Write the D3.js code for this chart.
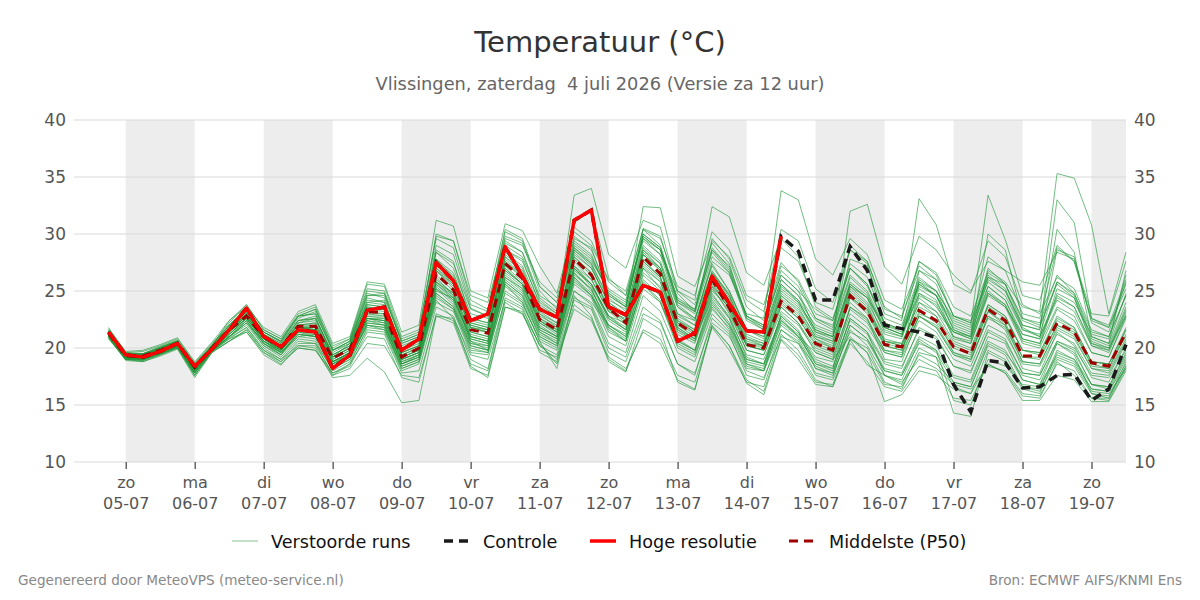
<!DOCTYPE html>
<html>
<head>
<meta charset="utf-8">
<script src="https://cdn.jsdelivr.net/npm/d3@7"></script>
<style>
  body { margin: 0; background: #fff; }
  svg { font-family: "DejaVu Sans", sans-serif; }
</style>
</head>
<body>
<svg id="chart" width="1200" height="600"></svg>
<script>
// runs start at 04-07 18:00 UTC, one value every 6 hours
const runStart = "2026-07-04T18:00:00Z";
const stepHours = 6;

const weekdays = ["zo", "ma", "di", "wo", "do", "vr", "za"];
const yTicks = [10, 15, 20, 25, 30, 35, 40];

// Hoge resolutie (stops after 14-07 12:00)
const hres = [21.4, 19.4,19.2,19.7,20.4, 18.4,19.9,21.6,23.5, 21.0,20.1,21.6,21.4, 18.2,19.4,23.3,23.6, 19.8,20.8,27.5,25.9, 22.4,23.0,28.9,26.3, 23.4,22.7,31.2,32.1, 23.6,22.9,25.5,24.9, 20.6,21.3,26.3,23.9, 21.5,21.4,29.8];

// Controle (same as hres up to 14-07 12:00)
const control = [21.4, 19.4,19.2,19.7,20.4, 18.4,19.9,21.6,23.5, 21.0,20.1,21.6,21.4, 18.2,19.4,23.3,23.6, 19.8,20.8,27.5,25.9, 22.4,23.0,28.9,26.3, 23.4,22.7,31.2,32.1, 23.6,22.9,25.5,24.9, 20.6,21.3,26.3,23.9, 21.5,21.4,29.8,28.5, 24.2,24.2,28.9,26.8, 22.0,21.7,21.4,20.9, 16.8,14.4,18.9,18.7, 16.5,16.6,17.6,17.7, 15.4,16.4,20.3];

// Middelste (P50)
const p50 = [21.3, 19.3,19.3,19.8,20.4, 18.3,20.0,21.6,22.8, 21.0,20.1,21.9,21.9, 19.1,19.9,23.2,23.1, 19.2,20.0,26.5,25.1, 21.6,21.3,27.4,26.1, 22.5,21.6,27.8,26.4, 23.5,22.2,28.0,26.5, 22.2,21.2,26.0,23.5, 20.3,20.0,24.1,22.8, 20.4,19.8,24.6,23.2, 20.3,20.1,23.3,22.4, 20.1,19.5,23.4,22.4, 19.3,19.3,22.2,21.4, 18.7,18.4,21.4];

// Verstoorde runs (one row per member)
const perturbed = [
  [21.6, 19.5,19.4,20.0,20.6, 18.5,20.2,22.0,23.6, 21.4,20.5,22.6,23.2, 19.8,20.6,24.6,24.8, 20.4,21.0,29.0,28.2, 23.5,22.8,29.8,29.2, 25.0,23.4,31.0,32.0, 26.2,24.6,30.5,29.8, 24.8,23.2,29.6,27.8, 23.6,22.4,27.5,25.8, 22.6,21.8,26.4,25.0, 21.8,21.2,24.6,23.8, 21.0,20.6,25.4,24.2, 20.8,20.4,23.6,22.8, 19.6,19.2,22.8],
  [20.8, 19.0,18.9,19.4,20.0, 17.6,19.7,21.0,22.0, 20.2,19.2,20.8,20.6, 18.0,18.8,21.6,21.4, 18.0,18.6,24.0,23.2, 19.6,19.4,25.0,24.0, 20.6,19.8,25.6,24.4, 21.0,20.2,25.2,24.0, 20.0,19.2,23.4,21.8, 18.6,18.0,21.6,20.4, 18.4,17.8,21.4,20.6, 18.0,17.6,20.4,19.8, 17.4,17.0,20.6,19.8, 17.2,16.8,19.4,18.8, 16.4,16.2,19.0],
  [21.0, 19.1,19.0,19.6,20.2, 17.8,19.8,20.8,21.4, 19.4,18.5,20.2,20.0, 17.4,17.6,19.1,17.9, 15.2,15.4,22.8,22.2, 18.2,17.6,23.6,23.0, 19.8,19.2,24.2,23.4, 19.6,18.8,23.0,22.2, 18.6,17.8,22.2,21.0, 18.0,17.4,21.0,20.4, 17.6,17.2,20.8,20.0, 17.0,16.4,19.6,19.2, 16.6,16.0,19.8,19.0, 16.6,16.2,19.0,18.4, 16.0,15.8,18.4],
  [21.4, 19.4,19.2,19.9,20.5, 18.3,20.1,21.8,23.4, 21.2,20.4,22.4,22.8, 19.2,20.4,24.4,24.0, 20.2,20.8,28.6,27.6, 22.4,22.0,29.4,28.4, 24.2,23.0,33.4,34.0, 28.2,27.0,31.2,30.6, 25.0,23.8,28.8,27.0, 22.8,22.0,26.4,25.0, 21.4,21.0,25.6,24.4, 20.8,20.4,24.0,23.2, 20.6,20.0,23.8,22.8, 19.8,19.6,22.6,21.8, 18.8,18.6,21.6],
  [21.2, 19.3,19.3,19.7,20.3, 18.2,20.0,21.5,22.8, 20.8,19.9,21.8,21.6, 18.8,19.6,22.8,22.6, 19.0,19.6,26.0,24.8, 21.0,20.6,27.0,25.6, 22.2,21.4,27.2,26.0, 23.2,22.6,28.6,27.4, 23.0,22.4,27.6,26.4, 23.0,22.6,33.8,33.0, 27.8,26.4,29.6,28.2, 24.2,23.4,27.2,26.0, 22.8,22.2,25.8,24.6, 21.6,21.0,24.4,23.6, 20.2,19.8,23.4],
  [21.3, 19.2,19.1,19.8,20.4, 18.2,19.9,21.4,22.6, 20.6,19.8,21.4,21.2, 18.6,19.4,22.6,22.4, 18.8,19.4,25.6,24.4, 20.8,20.4,26.6,25.4, 21.8,21.0,26.8,25.6, 22.6,21.6,27.4,26.0, 21.8,20.8,25.4,23.8, 20.2,19.8,23.6,22.2, 20.0,19.4,24.4,23.4, 20.2,19.8,24.8,24.0, 21.4,20.8,26.8,25.8, 23.6,23.2,35.3,34.9, 30.8,23.0,28.4],
  [21.5, 19.6,19.5,20.1,20.7, 18.6,20.3,22.2,23.8, 21.6,20.8,23.0,23.6, 20.0,20.8,25.2,25.0, 20.8,21.4,29.6,28.8, 23.8,23.2,30.2,29.4, 25.4,24.0,29.4,28.2, 24.6,23.6,29.8,28.6, 24.0,23.0,28.0,26.6, 22.4,21.6,26.0,24.6, 21.8,21.2,27.8,27.2, 23.0,22.4,33.1,30.8, 25.6,24.8,29.4,28.0, 23.8,23.0,26.2,25.2, 21.6,21.0,24.6],
  [21.1, 19.2,19.2,19.7,20.3, 18.0,19.9,21.2,22.4, 20.4,19.6,21.2,21.0, 18.4,19.2,22.2,22.0, 18.6,19.2,25.4,24.0, 20.4,20.2,26.0,24.8, 21.4,20.6,26.4,25.2, 22.0,21.2,27.0,25.8, 21.4,20.6,25.0,23.6, 20.8,20.4,24.8,23.6, 21.0,20.6,25.6,24.4, 21.6,21.0,25.8,25.0, 22.6,22.0,33.4,29.5, 24.6,24.2,29.0,27.6, 22.6,21.8,25.6],
  [21.0, 19.0,19.0,19.5,20.1, 17.9,19.8,21.0,22.2, 20.6,19.7,21.6,21.4, 18.6,19.4,22.4,22.2, 18.8,19.4,25.2,24.2, 20.6,20.2,26.2,25.0, 21.6,20.8,26.6,25.2, 21.8,20.8,26.4,25.0, 20.6,19.8,24.6,22.8, 19.2,18.6,22.4,21.0, 18.8,18.2,22.6,21.4, 17.6,16.8,20.0,19.2, 14.3,14.0,19.6,18.8, 16.4,16.0,19.6,19.0, 16.8,16.4,19.2],
  [21.4, 19.5,19.4,20.0,20.6, 18.4,20.0,21.6,23.0, 21.0,20.2,22.0,22.2, 19.2,20.0,23.6,23.4, 19.6,20.2,27.0,25.8, 22.0,21.6,28.0,26.8, 23.0,22.2,28.6,27.2, 23.8,22.8,28.4,27.0, 22.6,21.6,26.6,24.6, 21.0,20.4,25.0,23.8, 21.4,20.8,32.0,32.6, 27.1,25.6,29.8,28.6, 26.4,25.0,27.6,26.8, 25.8,25.5,28.4,27.8, 23.0,22.8,27.6],
  [21.2, 19.2,19.1,19.6,20.2, 18.0,19.8,21.2,22.6, 20.8,19.8,21.6,21.6, 18.8,19.6,23.0,22.8, 19.2,19.8,26.2,24.6, 21.2,20.8,27.0,25.6, 22.2,21.2,27.0,25.6, 22.8,21.6,27.0,25.2, 21.2,20.4,24.8,22.6, 19.4,19.0,22.6,21.0, 19.6,19.0,21.0,19.6, 15.3,15.9,18.0,17.6, 16.4,16.0,18.6,17.8, 15.4,15.4,17.6,17.2, 15.3,15.3,18.0],
  [21.7, 19.7,19.8,20.3,20.9, 18.8,20.5,22.4,23.6, 21.8,21.0,23.2,23.8, 20.4,21.0,25.8,25.6, 21.4,22.0,31.2,30.7, 25.0,24.4,30.9,30.3, 27.2,24.8,30.6,29.4, 25.8,24.6,29.6,28.6, 24.0,23.2,28.6,27.2, 22.8,22.0,26.4,25.0, 23.4,22.4,27.0,25.4, 22.2,21.6,26.0,25.0, 22.4,21.8,26.4,25.2, 21.8,21.0,24.6,23.6, 20.4,19.8,23.2],
  [21.3, 19.4,19.4,19.9,20.5, 18.4,20.1,21.8,23.2, 21.2,20.2,22.2,22.4, 19.4,20.2,23.8,23.6, 19.8,20.6,27.6,26.4, 22.6,22.2,28.4,27.2, 23.6,22.8,29.6,28.8, 24.6,23.6,32.4,32.3, 26.3,25.4,29.2,27.4, 22.6,21.6,25.6,24.2, 21.2,20.6,24.0,22.6, 19.8,19.4,22.8,22.0, 19.6,19.0,22.6,21.8, 18.8,18.6,21.6,20.8, 18.2,17.8,20.6],
  [21.5, 19.3,19.3,19.8,20.4, 18.3,20.0,21.6,22.8, 20.8,20.0,21.8,21.8, 19.0,19.8,23.0,23.0, 19.2,19.8,26.8,25.4, 21.6,21.4,27.8,26.4, 22.8,22.0,28.2,27.0, 24.0,23.0,29.4,28.2, 25.0,24.2,32.4,31.5, 26.6,25.5,29.6,28.0, 23.6,22.6,27.0,25.6, 22.0,21.4,25.4,24.6, 21.0,20.4,24.6,23.6, 20.4,20.0,23.4,22.4, 19.6,19.2,22.6],
  [20.9, 18.9,18.8,19.3,19.9, 17.4,19.6,20.6,21.6, 19.8,18.8,20.4,20.4, 17.6,18.6,21.0,20.8, 17.4,17.0,23.0,22.4, 18.6,18.0,24.0,23.0, 20.4,18.6,23.8,22.6, 19.2,18.2,21.4,20.4, 17.2,16.4,22.0,20.2, 17.2,16.2,20.8,19.4, 17.0,16.8,20.8,19.6, 16.8,16.6,19.4,18.6, 17.0,16.6,20.2,19.4, 16.6,16.4,19.8,19.0, 16.4,16.2,18.6],
  [21.4, 19.3,19.4,19.9,20.5, 18.5,20.2,21.8,23.4, 21.0,20.0,22.2,22.6, 19.6,20.4,24.0,24.2, 20.0,20.6,27.4,26.0, 22.2,21.8,28.6,27.8, 23.8,22.8,28.8,27.4, 24.4,23.2,29.0,27.6, 23.6,22.4,27.4,25.0, 21.6,21.0,25.4,24.2, 22.0,21.4,26.2,24.8, 21.4,21.0,25.8,24.6, 21.8,21.2,27.0,25.6, 22.4,21.8,25.8,24.6, 20.8,20.2,24.0],
  [21.0, 19.1,19.2,19.6,20.2, 18.1,19.8,21.2,22.6, 20.6,19.6,21.0,21.2, 18.4,19.2,22.0,21.8, 18.4,19.0,24.8,23.6, 20.2,19.8,25.8,24.6, 21.0,20.2,26.2,24.8, 21.8,20.6,25.6,24.0, 20.4,19.6,23.8,22.0, 19.0,18.6,22.8,21.4, 19.2,18.8,23.0,21.8, 19.6,19.2,22.4,21.4, 19.0,18.4,22.0,21.2, 18.6,18.4,21.2,20.4, 17.8,17.6,20.4],
  [21.8, 19.6,19.7,20.2,20.8, 18.7,20.4,22.0,23.4, 21.4,20.6,22.8,23.0, 19.8,20.6,24.8,24.4, 20.6,21.2,28.4,27.0, 23.0,22.6,29.0,28.0, 24.4,23.2,29.0,27.8, 25.0,24.0,30.0,28.8, 24.2,23.4,28.6,26.8, 22.8,21.8,27.2,26.0, 23.0,22.4,27.4,26.2, 22.6,22.0,26.2,25.0, 21.6,21.0,25.0,23.8, 20.6,20.2,24.8,24.0, 21.2,20.8,26.4],
  [21.2, 19.2,19.0,19.7,20.2, 17.6,19.7,20.9,21.8, 20.0,19.0,20.6,20.4, 18.2,19.0,22.0,21.6, 18.2,18.8,24.4,23.4, 19.8,19.6,24.8,23.8, 20.8,20.0,25.0,24.0, 22.0,21.0,26.6,25.4, 21.6,20.8,24.4,22.6, 18.6,18.2,22.0,20.8, 18.2,17.8,22.6,21.4, 18.8,18.4,21.6,20.8, 18.4,18.0,21.4,20.6, 17.8,17.6,20.6,20.0, 17.6,17.4,19.8],
  [21.5, 19.4,19.5,20.0,20.6, 18.6,20.2,22.4,23.8, 21.6,20.8,22.8,23.4, 20.2,20.8,25.6,25.4, 21.0,21.6,29.8,29.4, 24.6,24.0,29.6,29.0, 25.8,24.4,30.2,29.0, 26.0,25.0,30.4,29.6, 25.4,24.6,30.2,28.6, 24.6,23.8,28.8,27.6, 24.0,23.4,28.6,27.4, 22.0,21.6,27.6,26.4, 22.8,22.2,28.0,26.8, 23.0,22.6,28.8,27.6, 22.4,21.8,25.2],
  [21.0, 19.0,18.9,19.5,20.1, 17.8,19.7,20.8,21.8, 19.8,19.0,20.2,20.2, 17.8,18.4,21.4,21.2, 17.8,18.0,23.6,22.8, 19.0,18.2,24.4,23.6, 20.2,19.0,23.4,22.4, 19.0,18.0,21.6,20.8, 17.6,17.0,21.8,19.8, 17.0,16.6,21.2,19.8, 17.2,16.6,20.4,18.8, 16.6,16.2,18.4,18.0, 15.6,15.4,18.6,17.8, 15.8,15.6,18.8,17.6, 15.6,15.4,18.2],
  [21.3, 19.3,19.2,19.8,20.4, 18.2,19.9,21.6,23.0, 21.0,20.0,21.8,21.6, 18.8,19.6,23.2,23.0, 19.2,19.8,26.4,25.0, 21.4,21.0,27.2,25.8, 22.4,21.4,27.6,26.0, 23.2,22.0,27.8,26.2, 22.0,21.0,25.8,23.4, 20.2,19.8,24.0,22.6, 20.2,19.6,24.4,23.0, 20.2,19.8,23.2,22.2, 20.0,19.4,23.2,22.2, 19.2,19.2,22.0,21.2, 18.6,18.2,21.2],
  [21.1, 19.1,19.2,19.7,20.2, 18.0,19.9,21.0,22.4, 20.4,19.4,21.4,21.0, 18.6,19.2,22.6,22.2, 18.6,19.4,25.0,24.4, 20.8,20.4,26.4,25.2, 21.8,21.0,27.0,25.6, 22.8,21.8,28.2,27.0, 22.8,22.0,26.6,24.4, 20.8,20.2,24.6,23.2, 20.8,20.0,25.2,23.8, 20.6,20.4,24.0,22.8, 19.6,19.2,23.8,22.8, 19.8,19.6,22.8,21.8, 18.8,18.6,21.8],
  [21.2, 19.2,19.1,19.7,20.3, 18.2,19.8,21.4,22.8, 20.8,19.8,21.6,21.8, 18.8,19.4,22.6,22.4, 19.0,19.6,25.8,24.6, 20.6,19.8,25.6,24.0, 20.6,18.2,24.6,22.8, 18.8,17.9,22.6,21.6, 17.0,16.3,21.9,20.2, 16.9,15.9,20.7,19.0, 16.8,16.6,20.7,18.5, 17.6,17.0,19.0,18.2, 16.8,16.4,18.4,18.0, 16.0,15.8,18.6,18.0, 15.6,15.6,18.8],
  [21.4, 19.4,19.3,19.9,20.5, 18.4,20.0,21.8,23.2, 21.2,20.2,22.4,22.6, 19.4,20.2,24.2,24.0, 20.0,20.8,27.8,26.2, 22.2,21.8,28.0,26.6, 23.0,21.8,28.6,27.4, 24.2,23.4,30.4,29.0, 24.2,23.2,29.4,28.0, 24.2,23.2,30.4,29.4, 25.2,24.0,28.6,27.6, 23.6,22.6,27.6,26.6, 23.6,22.8,26.6,25.6, 22.6,22.2,26.4,24.8, 21.4,21.0,24.6],
  [21.0, 19.0,19.1,19.5,20.1, 17.8,19.7,20.6,21.6, 19.6,18.8,20.0,19.8, 17.8,18.6,21.8,21.6, 18.4,19.0,24.2,22.6, 19.4,19.0,24.2,23.4, 20.2,19.4,25.0,23.8, 20.4,19.6,24.6,23.2, 19.6,18.8,23.0,21.4, 18.2,18.0,23.0,21.6, 18.6,18.2,23.6,22.6, 19.0,18.8,22.8,21.8, 19.4,18.8,22.8,21.6, 18.2,17.8,21.4,20.2, 17.4,17.0,20.0],
  [21.6, 19.5,19.5,20.1,20.6, 18.4,20.2,22.0,23.4, 21.4,20.6,22.8,23.0, 19.8,20.4,24.6,24.6, 20.4,21.0,28.4,27.4, 23.4,22.8,29.2,28.4, 24.6,23.6,28.8,27.6, 25.2,24.2,29.8,28.6, 23.8,22.6,26.6,24.8, 21.6,20.8,25.6,24.0, 21.6,21.0,25.4,24.4, 21.8,21.2,24.8,23.6, 21.4,20.8,24.8,23.8, 20.8,20.4,25.2,24.4, 20.4,20.0,23.6],
  [21.3, 19.3,19.3,19.8,20.4, 18.3,20.0,21.6,23.0, 20.8,20.0,21.8,22.0, 19.2,20.0,23.6,23.4, 19.6,20.2,26.8,25.2, 21.8,21.6,27.6,26.4, 22.6,21.6,28.0,26.6, 23.4,22.4,28.6,27.0, 22.4,21.6,26.2,24.0, 20.4,20.2,24.4,23.0, 20.8,20.2,25.0,23.6, 20.6,20.2,23.6,22.8, 20.4,19.8,23.6,22.6, 19.8,19.4,22.4,21.6, 18.4,18.2,21.6],
  [21.2, 19.2,19.3,19.7,20.3, 18.2,20.0,21.4,22.6, 20.6,19.8,21.6,21.4, 18.6,19.6,22.8,22.8, 19.4,20.0,25.8,24.8, 21.4,21.0,26.8,25.6, 22.4,21.4,27.2,25.6, 22.8,22.2,27.6,26.2, 22.2,21.4,25.6,23.4, 20.2,19.8,23.8,22.6, 20.4,19.8,24.6,23.2, 20.4,20.0,23.0,22.4, 20.2,19.6,23.2,22.0, 19.2,19.0,22.0,21.4, 18.8,18.6,21.0],
  [21.1, 19.2,19.0,19.6,20.2, 18.0,19.8,21.2,22.6, 20.6,19.6,21.4,21.6, 18.8,19.6,22.6,22.4, 19.0,19.6,25.6,24.2, 21.0,20.6,26.2,25.2, 21.6,20.8,26.6,25.0, 22.4,21.4,27.2,25.8, 21.6,20.6,25.2,23.2, 19.8,19.4,23.2,22.0, 19.8,19.2,23.4,22.2, 19.6,19.2,26.8,26.0, 22.8,22.4,26.2,25.6, 22.0,21.6,30.4,28.4, 21.0,20.4,26.8],
  [21.2, 19.3,19.2,19.8,20.3, 18.2,20.0,21.6,22.9, 21.0,20.0,21.8,21.8, 19.0,19.8,23.4,23.2, 19.4,20.0,26.8,25.6, 21.8,21.4,27.6,26.2, 22.6,21.8,28.0,26.6, 23.6,22.4,28.2,26.8, 22.4,21.4,26.0,23.6, 20.4,20.0,24.2,22.8, 20.6,20.0,24.8,23.4, 20.6,20.2,24.4,23.2, 21.4,21.0,30.0,28.6, 22.6,22.0,25.6,24.4, 20.6,20.0,22.8],
  [20.9, 19.0,19.0,19.5,20.0, 17.8,19.7,21.0,22.2, 20.2,19.4,21.0,20.8, 18.2,19.0,22.0,21.8, 18.2,18.8,24.6,23.4, 20.0,19.6,25.4,24.2, 21.0,20.2,25.8,24.6, 21.4,20.6,25.8,24.6, 20.6,19.8,24.0,22.0, 18.8,18.4,22.4,21.2, 19.0,18.4,22.4,21.2, 18.6,18.2,21.8,21.0, 18.4,17.8,21.6,20.8, 17.8,17.6,20.6,19.8, 16.8,16.6,19.6],
  [21.4, 19.4,19.4,19.9,20.5, 18.4,20.1,21.8,23.2, 21.2,20.4,22.4,22.6, 19.4,20.2,24.0,23.8, 20.0,20.6,27.8,26.6, 22.6,22.2,28.6,27.6, 24.0,23.0,29.2,28.0, 24.8,23.8,29.6,28.2, 23.6,22.6,27.2,25.0, 21.6,21.0,26.0,24.6, 22.4,21.6,29.0,27.6, 23.4,22.8,26.8,25.6, 22.0,21.4,25.4,24.2, 21.2,20.8,24.2,23.2, 20.2,19.6,23.0],
  [21.1, 19.1,19.0,19.6,20.2, 18.0,19.8,21.0,22.4, 20.4,19.4,21.2,21.0, 18.4,19.2,22.4,22.0, 18.6,19.2,25.2,23.8, 20.4,20.0,25.8,24.6, 21.4,20.4,26.2,24.6, 22.0,21.0,26.0,24.6, 20.8,19.8,24.2,22.2, 19.0,18.6,22.8,21.4, 18.2,17.6,21.6,20.2, 17.6,17.2,20.6,19.6, 17.0,16.6,20.4,19.6, 17.6,17.2,20.4,19.4, 16.0,15.6,18.4],
  [21.3, 19.3,19.3,19.8,20.4, 18.3,20.0,21.6,23.0, 21.0,20.2,22.0,22.0, 19.2,20.0,23.4,23.4, 19.6,20.2,27.0,25.6, 21.8,21.4,27.4,26.2, 22.4,21.6,27.8,26.4, 23.4,22.2,28.2,26.8, 22.2,21.2,26.4,24.2, 20.6,20.2,24.6,23.4, 21.0,20.4,25.4,24.0, 21.2,20.8,25.2,24.2, 20.8,20.4,24.8,23.6, 21.2,20.8,28.6,28.0, 22.2,21.4,25.8],
  [21.0, 19.0,18.8,19.4,20.0, 17.6,19.6,20.6,21.4, 19.6,18.6,20.0,19.8, 17.6,18.2,20.4,20.2, 17.6,17.4,22.8,22.6, 18.4,17.4,23.6,23.2, 19.6,18.8,24.4,23.6, 20.0,19.2,23.6,22.4, 18.6,17.6,22.6,21.2, 17.6,17.2,21.6,20.6, 17.8,17.4,22.0,20.8, 18.2,17.8,21.0,20.2, 17.6,17.2,21.0,20.4, 17.2,16.8,20.4,19.6, 16.8,16.6,19.4],
  [21.5, 19.5,19.5,20.0,20.6, 18.5,20.2,22.0,23.4, 21.4,20.6,22.8,23.4, 19.8,20.6,25.0,24.8, 20.6,21.2,30.0,29.4, 24.2,23.4,30.4,29.6, 25.4,24.0,29.8,28.6, 24.8,23.6,30.0,28.8, 24.4,23.4,28.4,26.6, 22.6,21.8,26.8,25.4, 22.6,22.0,27.0,25.6, 22.2,21.6,25.6,24.6, 22.2,21.6,26.2,25.0, 21.6,21.2,25.8,24.8, 21.0,20.4,24.8],
  [21.2, 19.2,19.1,19.7,20.3, 18.1,19.9,21.4,22.8, 20.8,19.8,21.6,21.6, 18.8,19.6,22.6,22.6, 19.0,19.6,25.8,24.4, 21.0,20.6,26.8,25.6, 22.0,21.0,27.0,25.4, 22.6,21.6,27.6,26.2, 21.8,20.8,25.4,23.0, 19.8,19.4,23.6,22.2, 19.6,19.0,23.6,22.4, 19.8,19.6,22.8,21.8, 19.4,19.0,22.8,22.0, 18.8,18.6,21.8,21.0, 18.2,18.0,20.8],
  [21.0, 19.1,19.0,19.5,20.1, 17.9,19.8,21.0,22.2, 20.4,19.6,21.2,21.0, 18.4,19.2,22.2,22.0, 18.6,19.2,24.8,23.6, 20.2,19.8,25.6,24.4, 21.2,20.4,26.0,24.6, 21.6,20.6,25.6,24.2, 20.2,19.4,23.6,21.6, 18.4,18.0,22.2,21.0, 18.6,18.0,22.0,20.8, 18.0,17.6,20.8,19.8, 15.4,15.0,19.0,18.4, 16.8,16.6,19.2,18.6, 16.2,16.0,18.2],
  [21.4, 19.4,19.3,19.9,20.5, 18.4,20.0,21.7,23.1, 21.0,20.2,22.0,22.2, 19.2,20.0,23.8,23.6, 19.8,20.4,27.2,26.0, 22.0,21.6,28.2,27.0, 23.2,22.2,28.4,27.0, 24.0,22.8,28.8,27.4, 23.0,22.0,26.8,24.6, 21.2,20.6,25.2,24.0, 21.6,21.0,25.8,24.6, 21.8,21.2,25.6,24.6, 21.6,21.0,26.0,25.0, 22.0,21.6,33.0,31.0, 22.6,22.0,26.0]
];

const W = 1200, H = 600;
const margin = { left: 74, right: 74, top: 120, bottom: 138 };
const svg = d3.select("#chart");

const t0 = new Date(runStart);
const timeAt = (i) => d3.utcHour.offset(t0, i * stepHours);

const x = d3.scaleUtc()
  .domain([new Date("2026-07-04T06:00:00Z"), new Date("2026-07-19T12:00:00Z")])
  .range([margin.left, W - margin.right]);
const y = d3.scaleLinear().domain([10, 40]).range([H - margin.bottom, margin.top]);

const plotL = x.range()[0], plotR = x.range()[1];
const days = d3.utcDay.range(new Date("2026-07-05T00:00:00Z"), new Date("2026-07-20T00:00:00Z"));

// grey bands on every other day, starting sunday 05-07
svg.append("g").selectAll("rect")
  .data(days.filter((d, i) => i % 2 === 0))
  .enter().append("rect")
    .attr("x", d => x(d))
    .attr("y", y(40))
    .attr("width", d => Math.min(x(d3.utcDay.offset(d, 1)), plotR) - x(d))
    .attr("height", y(10) - y(40))
    .attr("fill", "#ededed");

// grid
svg.append("g").selectAll("line")
  .data(yTicks)
  .enter().append("line")
    .attr("x1", plotL).attr("x2", plotR)
    .attr("y1", d => y(d)).attr("y2", d => y(d))
    .attr("stroke", "#d9d9d9").attr("stroke-width", 1);

// y labels both sides
const yLeft = d3.axisLeft(y).tickValues(yTicks).tickSize(0).tickPadding(8);
const yRight = d3.axisRight(y).tickValues(yTicks).tickSize(0).tickPadding(8);
const ygL = svg.append("g").attr("transform", "translate(" + plotL + ",0)").call(yLeft);
const ygR = svg.append("g").attr("transform", "translate(" + plotR + ",0)").call(yRight);
[ygL, ygR].forEach(g => {
  g.select(".domain").remove();
  g.selectAll("text").attr("font-size", 17).attr("fill", "#555").attr("font-family", "DejaVu Sans");
});

// x axis with two-line labels
const xAxis = d3.axisBottom(x).tickValues(days.slice(0, 15)).tickSize(7).tickFormat("");
const xg = svg.append("g").attr("transform", "translate(0," + y(10) + ")").call(xAxis);
xg.select(".domain").remove();
xg.selectAll(".tick line").attr("stroke", "#666").attr("stroke-width", 1.5);
xg.selectAll(".tick").append("text")
  .attr("fill", "#555")
  .attr("font-size", 16)
  .attr("font-family", "DejaVu Sans")
  .attr("text-anchor", "middle")
  .each(function(d) {
    const t = d3.select(this);
    t.append("tspan").attr("x", 0).attr("y", 26).text(weekdays[d.getUTCDay()]);
    t.append("tspan").attr("x", 0).attr("y", 47).text(d3.utcFormat("%d-%m")(d));
  });

const line = d3.line()
  .x((d, i) => x(timeAt(i)))
  .y(d => y(d));

// members
svg.append("g").selectAll("path")
  .data(perturbed)
  .enter().append("path")
    .attr("d", line)
    .attr("fill", "none")
    .attr("stroke", "#1f9638")
    .attr("stroke-opacity", 0.62)
    .attr("stroke-width", 1);

svg.append("path").datum(p50)
  .attr("d", line).attr("fill", "none")
  .attr("stroke", "#a00000").attr("stroke-width", 3)
  .attr("stroke-dasharray", "9,6");

svg.append("path").datum(control)
  .attr("d", line).attr("fill", "none")
  .attr("stroke", "#1a1a1a").attr("stroke-width", 3.5)
  .attr("stroke-dasharray", "9,6");

svg.append("path").datum(hres)
  .attr("d", line).attr("fill", "none")
  .attr("stroke", "#ff0000").attr("stroke-width", 3.5)
  .attr("stroke-linejoin", "round");

// titles
svg.append("text").attr("x", W / 2).attr("y", 52)
  .attr("text-anchor", "middle").attr("font-size", 29).attr("fill", "#333")
  .text("Temperatuur (°C)");
svg.append("text").attr("x", W / 2).attr("y", 90)
  .attr("text-anchor", "middle").attr("font-size", 17.8).attr("fill", "#666")
  .style("white-space", "pre")
  .text("Vlissingen, zaterdag  4 juli 2026 (Versie za 12 uur)");

// legend
const legendItems = [
  { label: "Verstoorde runs", x: 232, color: "#1f9638", width: 1, dash: null, opacity: 0.55 },
  { label: "Controle", x: 444, color: "#1a1a1a", width: 3.5, dash: "9,6", opacity: 1 },
  { label: "Hoge resolutie", x: 590, color: "#ff0000", width: 3.5, dash: null, opacity: 1 },
  { label: "Middelste (P50)", x: 789, color: "#a00000", width: 3, dash: "9,6", opacity: 1 }
];
const legend = svg.append("g").selectAll("g")
  .data(legendItems)
  .enter().append("g")
    .attr("transform", d => "translate(" + d.x + ",541)");
legend.append("line")
  .attr("x1", 0).attr("x2", 26).attr("y1", 0).attr("y2", 0)
  .attr("stroke", d => d.color)
  .attr("stroke-width", d => d.width)
  .attr("stroke-opacity", d => d.opacity)
  .attr("stroke-dasharray", d => d.dash);
legend.append("text")
  .attr("x", (d, i) => i === 3 ? 40 : 39)
  .attr("y", 6.5)
  .attr("font-size", 17.6)
  .attr("fill", "#111")
  .text(d => d.label);

// footer
svg.append("text").attr("x", 18).attr("y", 585)
  .attr("font-size", 13.6).attr("fill", "#888")
  .text("Gegenereerd door MeteoVPS (meteo-service.nl)");
svg.append("text").attr("x", 1182).attr("y", 585)
  .attr("text-anchor", "end").attr("font-size", 13.6).attr("fill", "#888")
  .text("Bron: ECMWF AIFS/KNMI Ens");
</script>
</body>
</html>
